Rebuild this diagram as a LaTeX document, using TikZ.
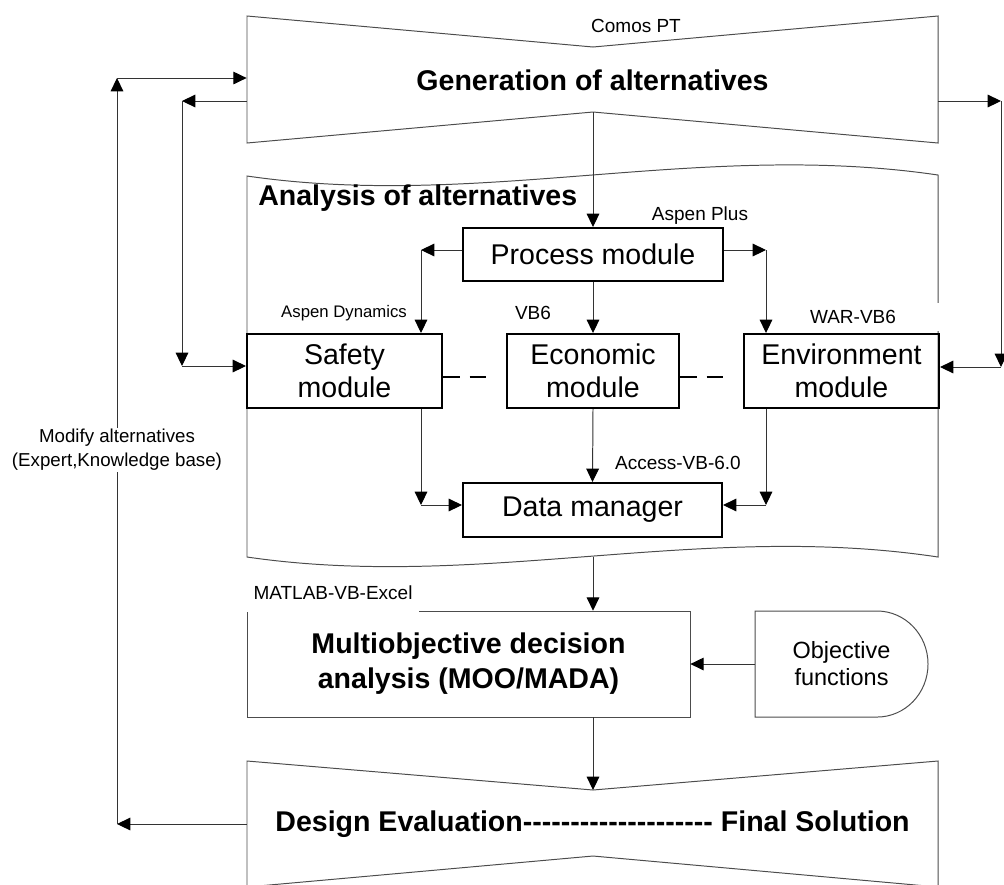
\documentclass[tikz,border=0pt]{standalone}
\usepackage{fontspec}
\setmainfont{Liberation Sans}
\usetikzlibrary{arrows.meta}

% single hyphen, kept out of the TeX dash ligature
\newcommand\hy{\mbox{-}}

\begin{document}
\begin{tikzpicture}[
    x=0.025cm, y=-0.025cm,
    % Text styles
    bigtxt/.style={font=\fontsize{20.3}{24.9}\selectfont\bfseries, align=center},
    lbl/.style={font=\fontsize{13.5}{16}\selectfont, inner sep=1pt},
    % Module boxes (thick frame)
    modbox/.style={draw=black, line width=1.4pt, align=center,
                   font=\fontsize{20.3}{23.5}\selectfont},
    % Big stage outlines
    outline/.style={draw=black!70, line width=0.7pt},
    bandbox/.style={minimum width=17.275cm, minimum height=3.175cm},
    % Arrows
    arr/.style={->, >={Triangle[length=9.5pt,width=9pt,color=black]}, line width=0.7pt, draw=black!80},
    dsh/.style={line width=1.4pt, dash pattern=on 12pt off 7pt, shorten >=0.5cm},
]
\useasboundingbox (0,0) rectangle (1004,884);

%% -- Stage outlines --
\draw[outline] (247,16) -- (593,47) -- (938,16) -- (938,143) -- (593,112) -- (247,143) -- cycle;
\draw[outline] (247,176) .. controls (480,210) and (700,140) .. (938,175) -- (938,557)
               .. controls (700,521) and (480,591) .. (247,557) -- cycle;
\draw[outline] (419,611) -- (690,611) -- (690,717) -- (247,717) -- (247,612);
\draw[outline] (755,611) -- (877,611) arc[start angle=90, end angle=-90, x radius=1.275cm, y radius=1.325cm]
               -- (755,717) -- cycle;
\draw[outline] (247,761) -- (593,790) -- (938,761) -- (938,887) -- (593,856) -- (247,887) -- cycle;

%% -- Generation of alternatives --
\node[bandbox, bigtxt] (gen) at (592.5,80) {Generation of alternatives};
\node[lbl] (comos) at (636,26) {Comos PT};
\coordinate (genout) at (593,112);

%% -- Analysis of alternatives --
\node[bigtxt, anchor=west, inner sep=0pt] (anat) at (258,198) {Analysis of alternatives};
\coordinate (anaout) at (593,557);

\node[modbox, minimum width=6.5cm, minimum height=1.325cm]  (proc) at (593,254.5) {Process module};
\node[modbox, minimum width=4.875cm, minimum height=1.85cm] (safe) at (344.5,371) {Safety\\module};
\node[modbox, minimum width=4.3cm, minimum height=1.85cm]   (econ) at (593,371)   {Economic\\module};
\node[modbox, minimum width=4.875cm, minimum height=1.85cm] (env)  at (841.5,371) {Environment\\module};
\node[modbox, minimum width=6.475cm, minimum height=1.35cm] (data) at (592.5,510) {Data manager};

\node[lbl] (aplus) at (700,216) {Aspen Plus};
\node[lbl, font=\fontsize{11.9}{14}\selectfont] (adyn) at (344,313) {Aspen Dynamics};
\node[lbl] (vb6)   at (533,313) {VB6};
\node[lbl, fill=white, minimum width=4.3cm, minimum height=0.7cm] (war) at (853,317) {WAR-VB6};
\node[lbl] (acc)   at (678,463) {Access-VB-6.0};

%% -- Decision analysis --
\node[lbl] (matlab) at (333,593) {MATLAB-VB-Excel};
\node[bigtxt, minimum width=11.075cm, minimum height=2.65cm] (moo) at (468.5,664)
     {Multiobjective decision\\analysis (MOO/MADA)};
\node[font=\fontsize{16.7}{19.2}\selectfont, align=center,
      minimum width=4.325cm, minimum height=2.65cm] (obj) at (841.5,664) {Objective\\functions};

%% -- Design evaluation --
\node[bandbox, bigtxt] (des) at (592.5,824)
     {Design Evaluation\hy\hy\hy\hy\hy\hy\hy\hy\hy\hy\hy\hy\hy\hy\hy\hy\hy\hy\hy\hy{} Final Solution};
\coordinate (desin) at (593,790);

%% -- Corner points of the connectors --
\coordinate (pl)  at (421,250);
\coordinate (pr)  at (766,250);
\coordinate (sd)  at (421,505);
\coordinate (ed)  at (766,505);
\coordinate (lo)  at (117,78);
\coordinate (lo2) at (117,824);
\coordinate (li)  at (182,101);
\coordinate (li2) at (182,366);
\coordinate (ro)  at (1001,101);
\coordinate (ro2) at (1001,367);

%% -- Main flow --
\draw[arr] (genout) -- (proc.north);
\draw[arr] (proc.west |- pl) -- (pl);
\draw[arr] (pl) -- (pl |- safe.north);
\draw[arr] (proc.east |- pr) -- (pr);
\draw[arr] (pr) -- (pr |- env.north);
\draw[arr] (proc.south) -- (econ.north);
\draw[arr] (econ.south) -- (data.north);
\draw[arr] (pl |- safe.south) -- (sd);
\draw[arr] (sd) -- (data.west |- sd);
\draw[arr] (pr |- env.south) -- (ed);
\draw[arr] (ed) -- (data.east |- ed);
\draw[arr] (anaout) -- (proc |- moo.north);
\draw[arr] (obj.west) -- (moo.east);
\draw[arr] (proc |- moo.south) -- (desin);

%% -- Module links --
\draw[dsh] ([yshift=-0.15cm]safe.east) -- ([yshift=-0.15cm]econ.west);
\draw[dsh] ([yshift=-0.15cm]econ.east) -- ([yshift=-0.15cm]env.west);

%% -- Feedback loops --
\draw[arr] (des.west) -- (lo2);
\draw[arr] (lo2) -- (lo);
\draw[arr] (lo) -- (lo -| gen.west);
\draw[arr] (li -| gen.west) -- (li);
\draw[arr] (li) -- (li2);
\draw[arr] (li2) -- (li2 -| safe.west);
\draw[arr] (ro -| gen.east) -- (ro);
\draw[arr] (ro) -- (ro2);
\draw[arr] (ro2) -- (ro2 -| env.east);

\node[lbl, fill=white, align=center, font=\fontsize{13.3}{17}\selectfont] (modify) at (117,450)
     {Modify alternatives\\(Expert,Knowledge base)};

\end{tikzpicture}
\end{document}
